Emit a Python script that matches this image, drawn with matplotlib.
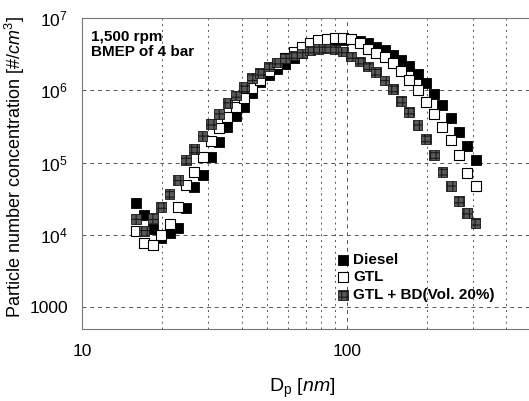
import numpy as np
import matplotlib
matplotlib.use("Agg")
import matplotlib.pyplot as plt
from matplotlib.ticker import FixedLocator, FuncFormatter, NullFormatter

plt.rcParams['font.family'] = ['Liberation Sans', 'DejaVu Sans']
plt.rcParams['mathtext.fontset'] = 'custom'
plt.rcParams['mathtext.rm'] = 'Liberation Sans'
plt.rcParams['mathtext.it'] = 'Liberation Sans:italic'
plt.rcParams['hatch.linewidth'] = 0.8

# mobility diameter bins [nm]
dp = [16.0, 17.2, 18.5, 19.9, 21.4, 23.0, 24.7, 26.5, 28.5, 30.6,
      32.9, 35.4, 38.0, 40.8, 43.9, 47.1, 50.7, 54.4, 58.5, 62.9,
      67.5, 72.6, 78.0, 83.8, 90.0, 96.7, 103.9, 111.7, 120.0, 128.9,
      138.6, 148.9, 160.0, 171.9, 184.7, 198.5, 213.3, 229.2, 246.3, 264.7,
      284.4, 305.6]

# particle number concentration [#/cm3]
diesel = [2.76e4, 1.89e4, 1.19e4, 9.1e3, 1.07e4, 1.25e4, 2.36e4, 4.59e4, 6.7e4, 1.19e5,
          1.92e5, 3.09e5, 4.38e5, 5.83e5, 9.1e5, 1.29e6, 1.61e6, 1.95e6, 2.28e6, 2.76e6,
          3.24e6, 3.68e6, 4.05e6, 4.45e6, 4.74e6, 4.97e6, 5.05e6, 4.79e6, 4.49e6, 3.96e6,
          3.56e6, 3.04e6, 2.59e6, 2.14e6, 1.66e6, 1.25e6, 8.8e5, 6.21e5, 4.11e5, 2.66e5,
          1.71e5, 1.08e5]
gtl = [1.14e4, 7.8e3, 7.3e3, 1.0e4, 1.42e4, 2.43e4, 4.9e4, 7.4e4, 1.19e5, 1.98e5,
       2.99e5, 4.24e5, 5.83e5, 7.76e5, 1.07e6, 1.37e6, 1.83e6, 2.28e6, 2.76e6, 3.34e6,
       3.92e6, 4.45e6, 4.9e6, 5.21e6, 5.38e6, 5.38e6, 5.05e6, 4.45e6, 3.79e6, 3.24e6,
       2.85e6, 2.36e6, 1.85e6, 1.37e6, 1.0e6, 6.9e5, 4.67e5, 3.12e5, 2.04e5, 1.27e5,
       7.2e4, 4.74e4]
gtl_bd = [1.66e4, 1.14e4, 1.72e4, 2.43e4, 3.68e4, 5.7e4, 1.08e5, 1.54e5, 2.32e5, 3.4e5,
          4.67e5, 6.6e5, 8.5e5, 1.1e6, 1.47e6, 1.72e6, 2.14e6, 2.43e6, 2.76e6, 3.04e6,
          3.24e6, 3.56e6, 3.74e6, 3.79e6, 3.68e6, 3.45e6, 2.94e6, 2.51e6, 2.14e6, 1.79e6,
          1.37e6, 1.03e6, 7.1e5, 5.02e5, 3.29e5, 2.11e5, 1.27e5, 7.4e4, 4.74e4, 2.94e4,
          2.01e4, 1.46e4]

fig = plt.figure(figsize=(5.29, 4.01), dpi=100)
ax = fig.add_axes([0.155, 0.1796, 0.851, 0.7754])
ax.set_xscale('log')
ax.set_yscale('log')
ax.set_xlim(10, 500)
ax.set_ylim(500, 1e7)

ms = 50
ax.scatter(dp, diesel, marker='s', s=ms, facecolor='black', edgecolor='black',
           linewidths=0.6, zorder=3, label='Diesel')
ax.scatter(dp, gtl, marker='s', s=ms, facecolor='white', edgecolor='black',
           linewidths=0.8, zorder=4, label='GTL')
ax.scatter(dp, gtl_bd, marker='s', s=ms, facecolor='#5a5a5a', edgecolor='#1a1a1a',
           hatch='+++', linewidths=0.6, zorder=5, label='GTL + BD(Vol. 20%)')

ax.xaxis.set_major_locator(FixedLocator([10, 100]))
ax.xaxis.set_minor_locator(FixedLocator([20, 30, 40, 50, 60, 70, 80, 90, 200, 300, 400]))
ax.xaxis.set_minor_formatter(NullFormatter())
ax.xaxis.set_major_formatter(FuncFormatter(lambda v, p: '%d' % v))
ax.yaxis.set_major_locator(FixedLocator([1e3, 1e4, 1e5, 1e6, 1e7]))
ax.yaxis.set_minor_locator(FixedLocator([]))


def yfmt(v, p):
    if v < 5000:
        return '%d' % v
    return r'$\mathregular{10^{%d}}$' % round(np.log10(v))


ax.yaxis.set_major_formatter(FuncFormatter(yfmt))
ax.tick_params(which='both', length=0, labelsize=12.5)
ax.tick_params(axis='y', pad=10)
ax.tick_params(axis='x', pad=11)

ax.grid(True, which='major', ls=(0, (4, 4)), lw=0.7, color='#555555')
ax.grid(True, which='minor', axis='x', ls=(0, (2, 4)), lw=0.7, color='#555555')
for s in ax.spines.values():
    s.set_color('#777777')
    s.set_linewidth(0.8)

ax.set_ylabel(r'Particle number concentration [#/$\mathit{cm}^3$]', fontsize=13)
ax.yaxis.set_label_coords(-0.122, 0.522)
ax.set_xlabel(r'D$_\mathregular{p}$ [$\mathit{nm}$]', fontsize=14)
ax.xaxis.set_label_coords(0.49, -0.155)

ax.text(0.02, 0.962, '1,500 rpm\nBMEP of 4 bar', transform=ax.transAxes,
        fontsize=11, fontweight='bold', va='top', ha='left', linespacing=1.1)

leg = ax.legend(loc='upper left', bbox_to_anchor=(0.545, 0.27), frameon=False,
                prop={'weight': 'bold', 'size': 11}, handletextpad=0.1,
                labelspacing=0.25, borderpad=0, handlelength=1.1, scatterpoints=1)

fig.savefig('out.png', dpi=100, facecolor='w')
